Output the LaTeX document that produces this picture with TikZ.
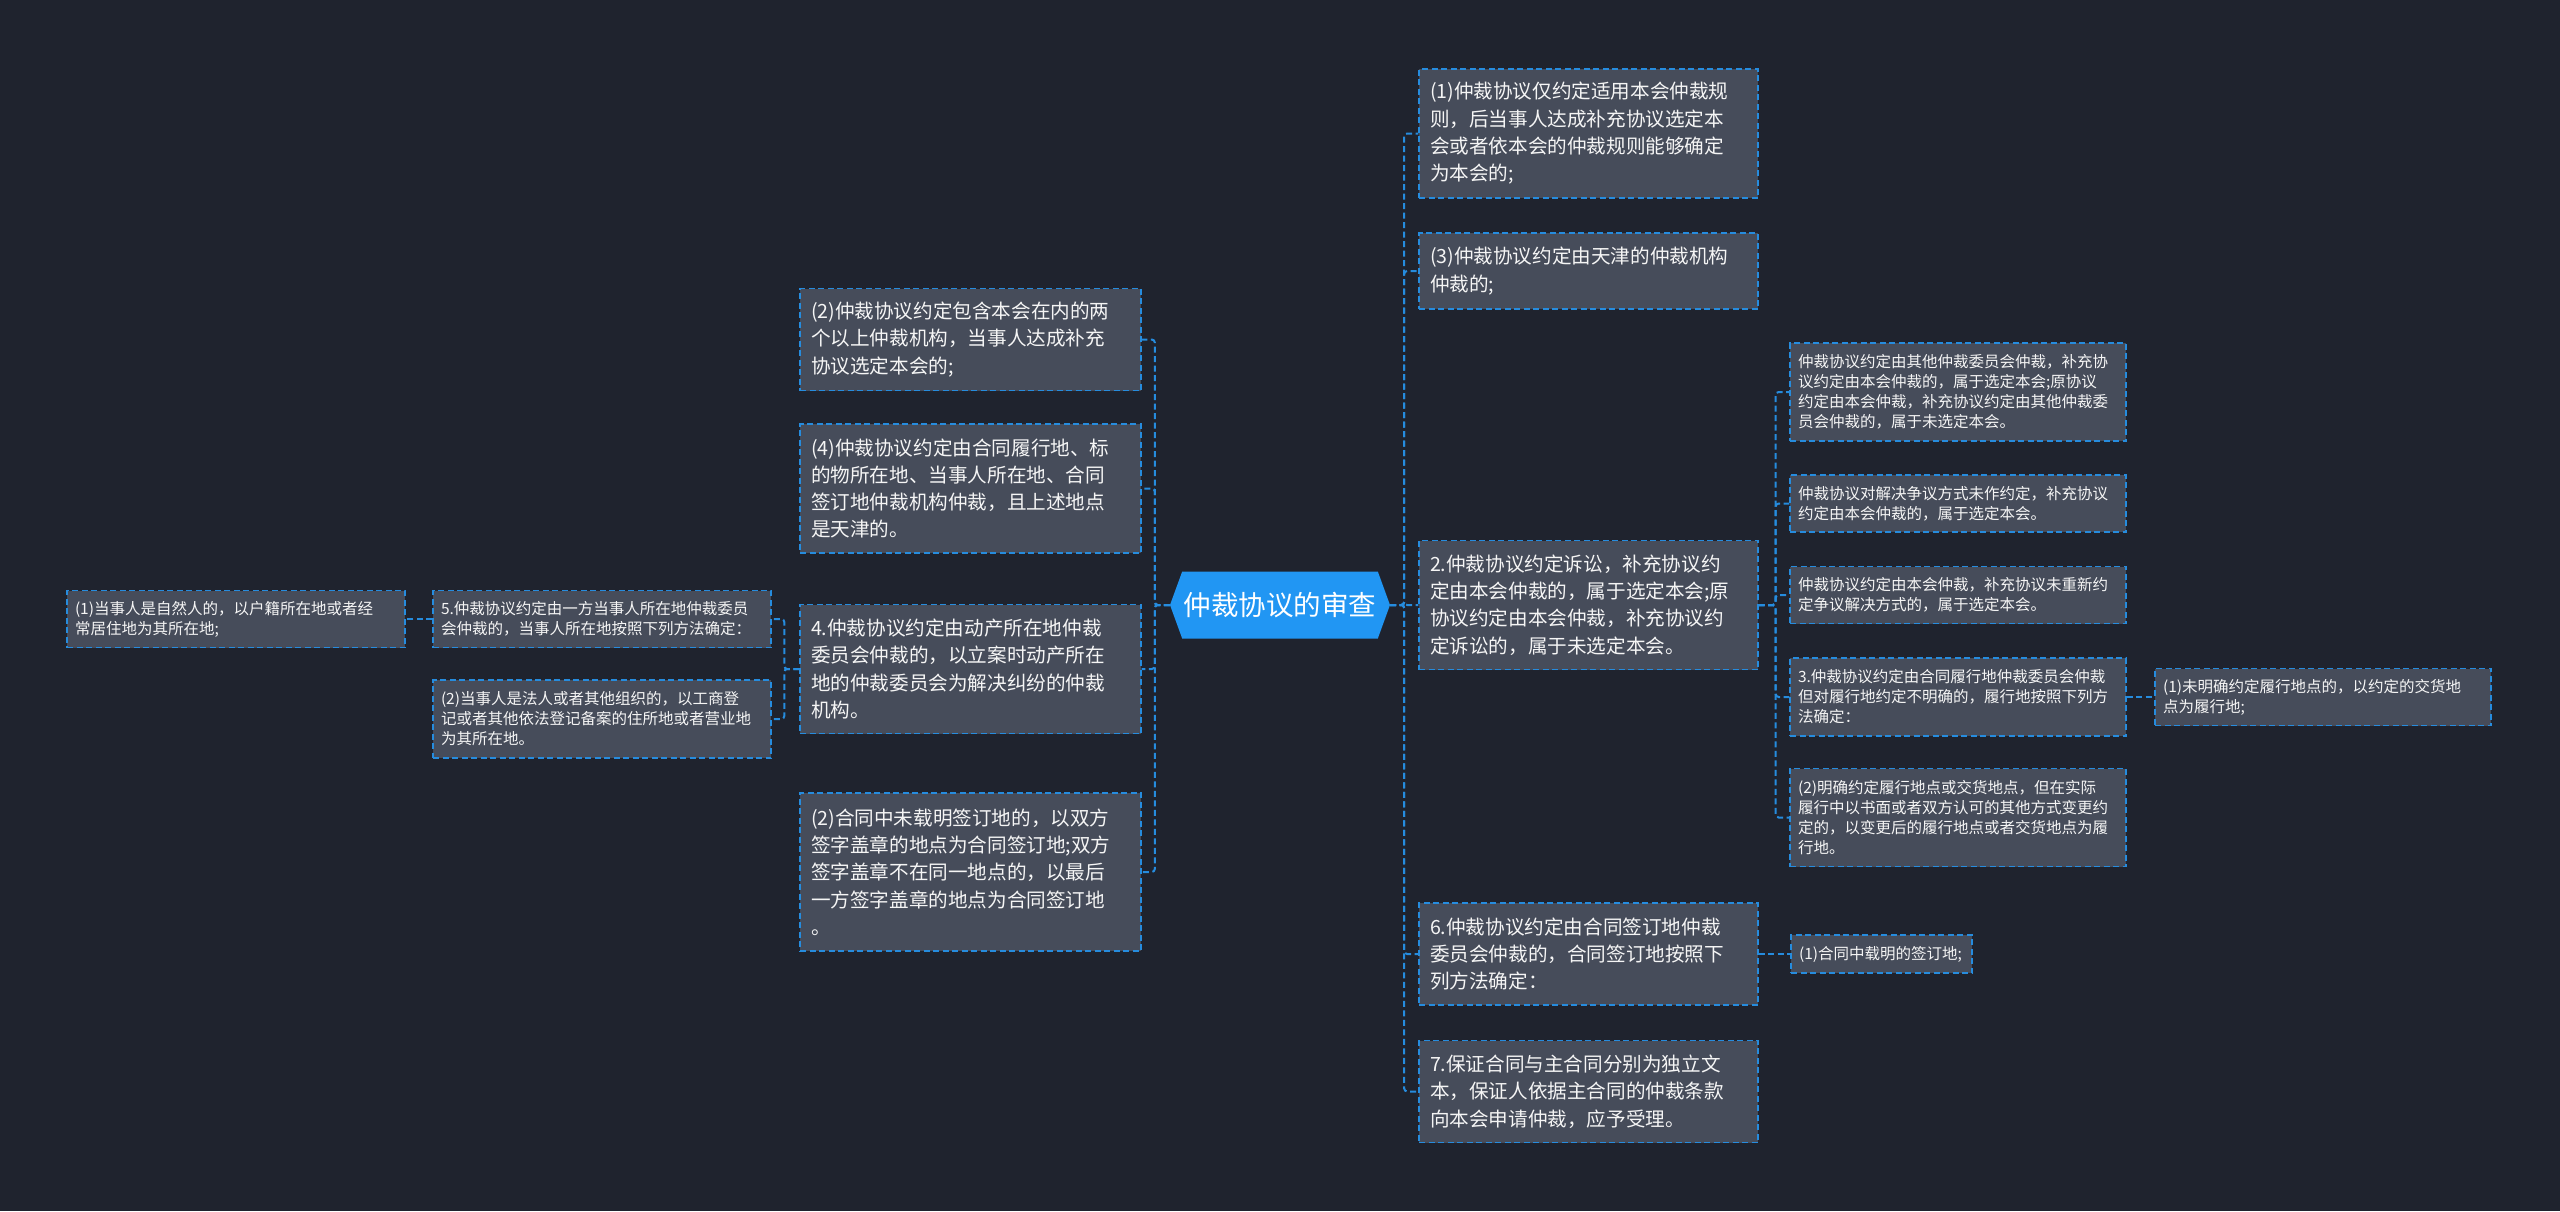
\documentclass[tikz,border=0pt]{standalone}
\usepackage{fontspec}
\setmainfont{Noto Sans CJK SC}
\usetikzlibrary{shapes.symbols}
\definecolor{bgc}{RGB}{31,35,46}
\definecolor{nodec}{RGB}{70,76,90}
\definecolor{linec}{RGB}{38,140,222}
\definecolor{rootc}{RGB}{33,150,243}
\definecolor{txtc}{RGB}{245,245,245}
\tikzset{
  box/.style={draw=linec, line width=1.4pt, dash pattern=on 6pt off 3.5pt, fill=nodec, text=txtc, align=left, inner xsep=0pt, inner ysep=0pt, rectangle},
  big/.style 2 args={box, minimum width=#1, text width=#1-22pt, minimum height=#2, font=\fontsize{19.6}{27.3}\selectfont},
  small/.style 2 args={box, minimum width=#1, text width=#1-16pt, minimum height=#2, font=\fontsize{15.5}{20}\selectfont},
  conn/.style={draw=linec, line width=2pt, dash pattern=on 6pt off 3.5pt, rounded corners=3pt},
  rootbox/.style={shape=signal, signal to=west and east, signal pointer angle=140, fill=rootc, text=white, minimum width=220pt, minimum height=67pt, inner sep=0pt, font=\fontsize{27.5}{30}\selectfont}
}
\begin{document}
\begin{tikzpicture}[x=1pt,y=-1pt]
\fill[bgc] (0,0) rectangle (2560,1211);
\useasboundingbox (0,0) rectangle (2560,1211);
% root
\node[rootbox] (root) at (1280,605) {仲裁协议的审查};
% right side
\node[big={339pt}{129pt}] (R1) at (1588.5,133.5) {(1)仲裁协议仅约定适用本会仲裁规\\则，后当事人达成补充协议选定本\\会或者依本会的仲裁规则能够确定\\为本会的;};
\node[big={339pt}{76pt}] (R2) at (1588.5,271) {(3)仲裁协议约定由天津的仲裁机构\\仲裁的;};
\node[big={339pt}{129pt}] (R3) at (1588.5,605) {2.仲裁协议约定诉讼，补充协议约\\定由本会仲裁的，属于选定本会;原\\协议约定由本会仲裁，补充协议约\\定诉讼的，属于未选定本会。};
\node[big={339pt}{102pt}] (R4) at (1588.5,954) {6.仲裁协议约定由合同签订地仲裁\\委员会仲裁的，合同签订地按照下\\列方法确定：};
\node[big={339pt}{102pt}] (R5) at (1588.5,1091.5) {7.保证合同与主合同分别为独立文\\本，保证人依据主合同的仲裁条款\\向本会申请仲裁，应予受理。};
% R3 children
\node[small={336pt}{98pt}] (R3a) at (1958,392) {仲裁协议约定由其他仲裁委员会仲裁，补充协\\议约定由本会仲裁的，属于选定本会;原协议\\约定由本会仲裁，补充协议约定由其他仲裁委\\员会仲裁的，属于未选定本会。};
\node[small={336pt}{57pt}] (R3b) at (1958,503.5) {仲裁协议对解决争议方式未作约定，补充协议\\约定由本会仲裁的，属于选定本会。};
\node[small={336pt}{57pt}] (R3c) at (1958,595) {仲裁协议约定由本会仲裁，补充协议未重新约\\定争议解决方式的，属于选定本会。};
\node[small={336pt}{78pt}] (R3d) at (1958,697) {3.仲裁协议约定由合同履行地仲裁委员会仲裁\\但对履行地约定不明确的，履行地按照下列方\\法确定：};
\node[small={336pt}{98pt}] (R3e) at (1958,817.5) {(2)明确约定履行地点或交货地点，但在实际\\履行中以书面或者双方认可的其他方式变更约\\定的，以变更后的履行地点或者交货地点为履\\行地。};
\node[small={336pt}{57pt}] (R3dc) at (2323,697) {(1)未明确约定履行地点的，以约定的交货地\\点为履行地;};
\node[small={181pt}{38pt}] (R4c) at (1881.5,954) {(1)合同中载明的签订地;};
% left side
\node[big={341pt}{102pt}] (L1) at (970.5,339.5) {(2)仲裁协议约定包含本会在内的两\\个以上仲裁机构，当事人达成补充\\协议选定本会的;};
\node[big={341pt}{129pt}] (L2) at (970.5,488.5) {(4)仲裁协议约定由合同履行地、标\\的物所在地、当事人所在地、合同\\签订地仲裁机构仲裁，且上述地点\\是天津的。};
\node[big={341pt}{129pt}] (L3) at (970.5,669) {4.仲裁协议约定由动产所在地仲裁\\委员会仲裁的，以立案时动产所在\\地的仲裁委员会为解决纠纷的仲裁\\机构。};
\node[big={341pt}{158pt}] (L4) at (970.5,872) {(2)合同中未载明签订地的，以双方\\签字盖章的地点为合同签订地;双方\\签字盖章不在同一地点的，以最后\\一方签字盖章的地点为合同签订地\\。};
\node[small={338pt}{57pt}] (L3a) at (602,619) {5.仲裁协议约定由一方当事人所在地仲裁委员\\会仲裁的，当事人所在地按照下列方法确定：};
\node[small={338pt}{78pt}] (L3b) at (602,719) {(2)当事人是法人或者其他组织的，以工商登\\记或者其他依法登记备案的住所地或者营业地\\为其所在地。};
\node[small={338pt}{57pt}] (L5) at (236,619) {(1)当事人是自然人的，以户籍所在地或者经\\常居住地为其所在地;};
% connectors
\foreach \c in {R1,R2,R3,R4,R5}{\draw[conn] (root.east) -- ++(14,0) |- (\c.west);}
\foreach \c in {L1,L2,L3,L4}{\draw[conn] (root.west) -- ++(-15,0) |- (\c.east);}
\foreach \c in {R3a,R3b,R3c,R3d,R3e}{\draw[conn] (R3.east) -- ++(17,0) |- (\c.west);}
\draw[conn] (R3d.east) -- (R3dc.west);
\draw[conn] (R4.east) -- (R4c.west);
\foreach \c in {L3a,L3b}{\draw[conn] (L3.west) -- ++(-15,0) |- (\c.east);}
\draw[conn] (L3a.west) -- (L5.east);
\end{tikzpicture}
\end{document}
